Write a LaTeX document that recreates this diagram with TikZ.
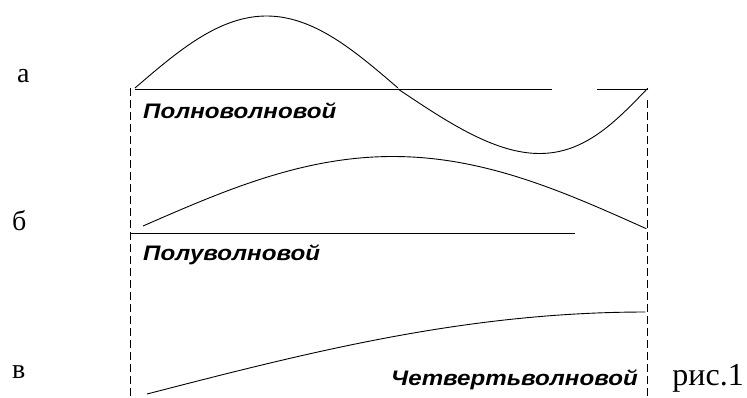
\documentclass[tikz,border=0pt]{standalone}
\usepackage{fontspec}
\usepackage{graphicx}
\setmainfont{Liberation Serif}
\newfontfamily\labfont{Liberation Sans}
\newcommand{\widelab}[1]{\scalebox{1.15}[1]{#1}}
\tikzset{
  wave/.style={line width=0.9pt, black},
  axisline/.style={line width=0.9pt, black},
  guide/.style={line width=0.8pt, black, dash pattern=on 8pt off 4pt},
  lab/.style={inner sep=0pt, font=\labfont\bfseries\itshape\fontsize{21}{25}\selectfont},
  letter/.style={inner sep=0pt, font=\fontsize{28}{32}\selectfont},
}
\begin{document}
\begin{tikzpicture}[x=1pt,y=-1pt]
\useasboundingbox (0,0) rectangle (747,397);
% guide lines
\coordinate (lt) at (130,88);
\coordinate (lb) at (130,397);
\coordinate (rt) at (647,100);
\coordinate (rb) at (647,397);
\draw[guide] (lt) -- (lb);
\draw[guide] (rt) -- (rb);
% a
\coordinate (a1) at (135,89);
\coordinate (a2) at (552,89);
\coordinate (a3) at (597,89);
\coordinate (a4) at (648,89);
\draw[axisline] (a1) -- (a2);
\draw[axisline] (a3) -- (a4);
\draw[wave] plot[domain=0:1, samples=80, smooth] ({135+263*\x},{88-72*sin(180*\x)});
\draw[wave] plot[domain=0:1, samples=80, smooth] ({398+250*(\x+0.068*sin(180*\x))},{89+65*sin(180*\x)-\x});
% b
\coordinate (b1) at (130,233);
\coordinate (b2) at (575,233);
\draw[axisline] (b1) -- (b2);
\draw[wave] plot[domain=0:1, samples=120, smooth] ({143+504*\x},{226+3*\x-71*sin(180*\x)});
% v
\draw[wave] plot[domain=0:1, samples=120, smooth] ({147+499*\x},{394-82*sin(90*\x)});
% labels
\node[lab, anchor=base west] (full) at (143,118) {\widelab{Полноволновой}};
\node[lab, anchor=base west] (half) at (143,260) {\widelab{Полуволновой}};
\node[lab, anchor=base east] (quarter) at (638,385) {\widelab{Четвертьволновой}};
\node[letter, anchor=base east, font=\fontsize{32}{36}\selectfont] (fig) at (744,385) {рис.1};
\node[letter, anchor=base west] (la) at (17,82) {а};
\node[letter, anchor=base west] (lb2) at (12,230) {б};
\node[letter, anchor=base west] (lv) at (12,378) {в};
\end{tikzpicture}
\end{document}
